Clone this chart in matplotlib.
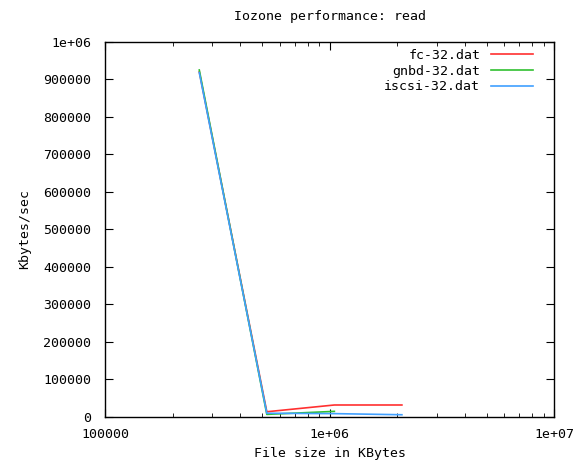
"""Iozone read performance: fc / gnbd / iscsi, gnuplot-style."""

import matplotlib

matplotlib.use("Agg")
import matplotlib.pyplot as plt
from matplotlib.ticker import FixedLocator, LogLocator, NullFormatter

FILE_SIZES = [262144, 524288, 1048576, 2097152]
FC = [920000, 14000, 32000, 32000]
GNBD = [925000, 7000, 15000]
ISCSI = [918000, 10000, 9000, 6000]

SERIES = [
    ("fc-32.dat", FILE_SIZES, FC, "#ff3030"),
    ("gnbd-32.dat", FILE_SIZES[:3], GNBD, "#30c030"),
    ("iscsi-32.dat", FILE_SIZES, ISCSI, "#40a0ff"),
]

Y_TICKS = list(range(0, 1000001, 100000))
Y_LABELS = [str(v) for v in Y_TICKS[:-1]] + ["1e+06"]
X_TICKS = [1e5, 1e6, 1e7]
X_LABELS = ["100000", "1e+06", "1e+07"]

plt.rcParams["font.family"] = ["DejaVu Sans Mono"]
FS = 9.5

fig = plt.figure(figsize=(5.79, 4.62), dpi=100)
ax = fig.add_axes([0.182, 0.0974, 0.775, 0.812])

for name, xs, ys, color in SERIES:
    ax.plot(xs, ys, color=color, lw=1.2, label=name)

ax.set_xscale("log")
ax.set_xlim(1e5, 1e7)
ax.set_ylim(0, 1000000)

ax.xaxis.set_major_locator(FixedLocator(X_TICKS))
ax.set_xticklabels(X_LABELS)
ax.xaxis.set_minor_locator(LogLocator(base=10, subs=range(2, 10)))
ax.xaxis.set_minor_formatter(NullFormatter())
ax.set_yticks(Y_TICKS)
ax.set_yticklabels(Y_LABELS)

ax.tick_params(which="both", direction="in", top=True, right=True,
               labelsize=FS, color="black")
ax.tick_params(which="major", length=6)
ax.tick_params(axis="x", which="major", pad=8)
ax.tick_params(axis="y", which="major", pad=10)
ax.tick_params(which="minor", length=3)
for sp in ax.spines.values():
    sp.set_linewidth(1.0)

ax.set_title("Iozone performance: read", fontsize=FS, pad=16)
ax.set_xlabel("File size in KBytes", fontsize=FS, labelpad=4)
ax.set_ylabel("Kbytes/sec", fontsize=FS, labelpad=9)

leg = ax.legend(loc="upper right", bbox_to_anchor=(0.965, 0.995),
                frameon=False, fontsize=FS, markerfirst=False,
                handlelength=3.2, labelspacing=0.2, borderaxespad=0.0,
                handletextpad=0.8)
for t in leg.get_texts():
    t.set_ha("right")

fig.savefig("out.png", dpi=100)
